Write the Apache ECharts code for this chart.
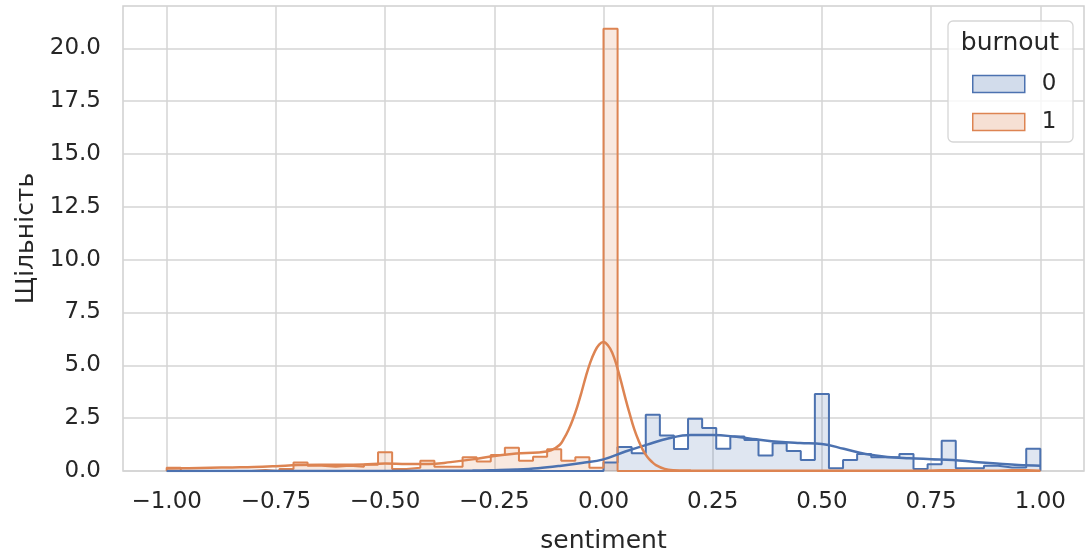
<!DOCTYPE html>
<html>
<head>
<meta charset="utf-8">
<title>sentiment density by burnout</title>
<script src="https://cdn.jsdelivr.net/npm/echarts@6/dist/echarts.min.js"></script>
<style>
  html, body { margin: 0; padding: 0; background: #ffffff; }
  #chart { width: 1089px; height: 555px; }
</style>
</head>
<body>
<div id="chart"></div>
<script>
// Histogram bins: 62 equal bins spanning the sentiment range.
const binStart = -1;
const binEnd = 1;

// Density per bin, burnout = 0
const densityBurnout0 = [
  0, 0, 0, 0, 0, 0, 0, 0, 0, 0,
  0, 0, 0, 0, 0, 0, 0, 0, 0, 0,
  0, 0, 0, 0, 0, 0, 0, 0, 0, 0,
  0, 0.4, 1.14, 0.84, 2.66, 1.68, 1.04, 2.47, 2.04, 1.05,
  1.63, 1.47, 0.73, 1.31, 0.95, 0.52, 3.64, 0.13, 0.52, 0.81,
  0.65, 0.65, 0.81, 0.1, 0.32, 1.43, 0.13, 0.13, 0.25, 0.17,
  0.17, 1.05
];

// Density per bin, burnout = 1
const densityBurnout1 = [
  0.15, 0, 0, 0, 0, 0, 0.05, 0, 0.1, 0.4,
  0.25, 0.2, 0.25, 0.2, 0.3, 0.89, 0.1, 0.15, 0.49, 0.2,
  0.2, 0.65, 0.45, 0.76, 1.1, 0.49, 0.68, 1.03, 0.49, 0.65,
  0.15, 20.92, 0, 0, 0, 0, 0, 0, 0, 0,
  0, 0, 0, 0, 0, 0, 0, 0, 0, 0,
  0, 0, 0, 0, 0.05, 0.05, 0, 0, 0, 0.05,
  0.05, 0
];

// Kernel density estimates
const kdeX0 = [-1.0, -0.6, -0.4, -0.3, -0.25, -0.2, -0.15, -0.1, -0.05, 0, 0.05, 0.1, 0.15, 0.2, 0.25,
  0.3, 0.35, 0.4, 0.45, 0.5, 0.55, 0.6, 0.65, 0.7, 0.75, 0.8, 0.85, 0.9, 0.95, 1.0];
const kdeY0 = [0, 0, 0.01, 0.02, 0.04, 0.07, 0.13, 0.24, 0.38, 0.55, 0.92, 1.25, 1.55, 1.7, 1.7,
  1.63, 1.5, 1.38, 1.32, 1.28, 1.05, 0.8, 0.66, 0.6, 0.56, 0.52, 0.43, 0.35, 0.28, 0.25];

const kdeX1 = [-1.0, -0.95, -0.9, -0.85, -0.8, -0.75, -0.7, -0.65, -0.6, -0.55, -0.5, -0.45, -0.4, -0.35,
  -0.3, -0.25, -0.2, -0.15, -0.12, -0.1, -0.09, -0.08, -0.07, -0.06, -0.05, -0.04, -0.03, -0.02, -0.01,
  0, 0.01, 0.02, 0.03, 0.04, 0.05, 0.06, 0.07, 0.08, 0.09, 0.1, 0.11,
  0.12, 0.14, 0.16, 0.2, 0.3, 0.5, 0.7, 1.0];
const kdeY1 = [0.12, 0.13, 0.15, 0.17, 0.19, 0.23, 0.28, 0.3, 0.3, 0.31, 0.35, 0.33, 0.33, 0.42,
  0.55, 0.71, 0.83, 0.88, 0.98, 1.24, 1.55, 1.95, 2.45, 3.05, 3.75, 4.5, 5.15, 5.65, 5.98,
  6.1, 5.95, 5.6, 5.0, 4.25, 3.45, 2.7, 2.0, 1.45, 1.0, 0.68, 0.45,
  0.28, 0.1, 0.04, 0.02, 0.01, 0.01, 0.01, 0.01];

// Axis ticks
const xTickValues = [-1, -0.75, -0.5, -0.25, 0, 0.25, 0.5, 0.75, 1];
const yTickValues = [0, 2.5, 5, 7.5, 10, 12.5, 15, 17.5, 20];

const hueLevels = ['0', '1'];
const hueColors = ['#4c72b0', '#dd8452'];
const hueFills = ['rgba(76,114,176,0.25)', 'rgba(221,132,82,0.25)'];

const FONT = 'DejaVu Sans';
const TEXT = '#262626';

// Step outline of a histogram: start and end on the baseline
function stepPoints(values) {
  const n = values.length;
  const w = (binEnd - binStart) / n;
  const pts = [[binStart, 0]];
  for (let i = 0; i < n; i++) pts.push([binStart + i * w, values[i]]);
  pts.push([binEnd, 0]);
  return pts;
}

function zipXY(xs, ys) {
  return xs.map((x, i) => [x, ys[i]]);
}

function fmtNum(v, digits) {
  const s = Math.abs(v).toFixed(digits);
  return v < 0 ? '\u2212' + s : s;
}

const chart = echarts.init(document.getElementById('chart'), null, { renderer: 'canvas' });

const histSeries = [densityBurnout0, densityBurnout1].map((vals, i) => ({
  name: hueLevels[i],
  type: 'line',
  step: 'end',
  data: stepPoints(vals),
  showSymbol: false,
  symbol: 'none',
  lineStyle: { color: hueColors[i], width: 2 },
  itemStyle: { color: hueColors[i] },
  areaStyle: { color: hueFills[i], origin: 0 },
  z: 2
}));

const kdeSeries = [[kdeX0, kdeY0], [kdeX1, kdeY1]].map((pair, i) => ({
  name: 'kde ' + hueLevels[i],
  type: 'line',
  data: zipXY(pair[0], pair[1]),
  smooth: 0.4,
  showSymbol: false,
  symbol: 'none',
  lineStyle: { color: hueColors[i], width: 2.5 },
  itemStyle: { color: hueColors[i] },
  z: 3
}));

const option = {
  animation: false,
  backgroundColor: '#ffffff',
  grid: {
    left: 123, right: 5, top: 6, bottom: 84,
    outerBoundsMode: 'none',
    containLabel: false,
    show: true, borderColor: '#d0d0d0', borderWidth: 1.5, backgroundColor: 'transparent'
  },
  xAxis: {
    type: 'value',
    min: -1.1, max: 1.1,
    name: 'sentiment',
    nameLocation: 'middle',
    nameGap: 58,
    nameTextStyle: { fontFamily: FONT, fontSize: 25, color: TEXT },
    axisLine: { show: false },
    axisTick: { show: false, customValues: xTickValues },
    axisLabel: {
      customValues: xTickValues,
      formatter: v => fmtNum(v, 2),
      fontFamily: FONT, fontSize: 23, color: TEXT, margin: 20
    },
    splitLine: { show: true, lineStyle: { color: '#d4d4d4', width: 1.5 } }
  },
  yAxis: {
    type: 'value',
    min: 0, max: 22,
    name: 'Щільність',
    nameLocation: 'middle',
    nameGap: 84,
    nameTextStyle: { fontFamily: FONT, fontSize: 25, color: TEXT },
    axisLine: { show: false },
    axisTick: { show: false, customValues: yTickValues },
    axisLabel: {
      customValues: yTickValues,
      formatter: v => fmtNum(v, 1),
      fontFamily: FONT, fontSize: 23, color: TEXT, margin: 22
    },
    splitLine: { show: true, lineStyle: { color: '#d4d4d4', width: 1.5 } }
  },
  legend: {
    orient: 'vertical',
    left: 967, top: 67,
    itemWidth: 52, itemHeight: 17,
    itemGap: 14,
    icon: 'rect',
    z: 6,
    data: hueLevels.map((name, i) => ({
      name: name,
      icon: 'rect',
      itemStyle: { color: hueFills[i], borderColor: hueColors[i], borderWidth: 1.5 }
    })),
    textStyle: { fontFamily: FONT, fontSize: 23, color: TEXT, lineHeight: 24, padding: [0, 0, 0, 12] }
  },
  graphic: [
    {
      type: 'rect',
      z: 5,
      shape: { x: 948, y: 21, width: 125, height: 121, r: 5 },
      style: { fill: 'rgba(255,255,255,0.8)', stroke: '#d6d6d6', lineWidth: 1.3 }
    },
    {
      type: 'text',
      z: 6,
      style: {
        x: 1010, y: 43,
        text: 'burnout',
        align: 'center', verticalAlign: 'middle',
        fontFamily: FONT, fontSize: 25, fill: TEXT
      }
    }
  ],
  series: histSeries.concat(kdeSeries)
};

chart.setOption(option);
</script>
</body>
</html>
